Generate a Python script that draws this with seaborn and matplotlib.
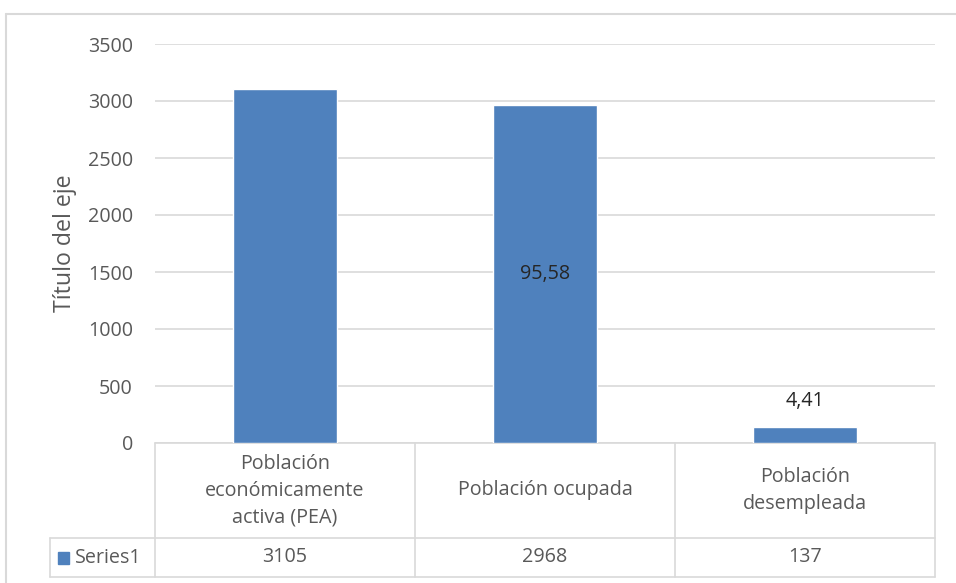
import matplotlib
matplotlib.use("Agg")
import matplotlib.pyplot as plt
import matplotlib.transforms as mtransforms
from matplotlib.patches import Rectangle
from matplotlib.lines import Line2D
import pandas as pd
import seaborn as sns

# data
categories = ["Población\neconómicamente\nactiva (PEA)", "Población ocupada", "Población\ndesempleada"]
values = [3105, 2968, 137]
bar_labels = ["", "95,58", "4,41"]
series_name = "Series1"
yticks = [0, 500, 1000, 1500, 2000, 2500, 3000, 3500]
ylabel = "Título del eje"

W, H = 956, 583
BLUE = "#4F81BD"
GRID = "#D9D9D9"
TXT = "#595959"
FS = 14.2

sns.set_theme(style="white")
plt.rcParams["font.family"] = ["Open Sans", "DejaVu Sans"]


def fx(x):
    return x / W


def fy(y):
    return 1 - y / H


df = pd.DataFrame({"cat": categories, "val": values})

fig = plt.figure(figsize=(W / 100, H / 100), dpi=100)
ax = fig.add_axes([fx(155), fy(443), fx(935) - fx(155), fy(44) - fy(443)])

sns.barplot(data=df, x="cat", y="val", color=BLUE, saturation=1, width=0.4, ax=ax, zorder=3)

ax.set_ylim(0, 3500)
ax.set_xlim(-0.5, len(categories) - 0.5)
ax.set_yticks(yticks)
ax.set_yticklabels([str(t) for t in yticks], color=TXT, fontsize=FS)
ax.set_xticks([])
ax.set_xlabel("")
ax.set_ylabel(ylabel, color=TXT, fontsize=FS + 2.5, labelpad=8)
ax.tick_params(axis="y", length=0, pad=16)
ax.yaxis.grid(True, color=GRID, linewidth=1.2)
for s in ax.spines.values():
    s.set_visible(False)

# data labels
for i, (v, lab) in enumerate(zip(values, bar_labels)):
    if not lab:
        continue
    if v > 1000:
        ax.text(i, v / 2, lab, ha="center", va="center", color="#262626", fontsize=FS)
    else:
        ax.annotate(lab, (i, v), xytext=(0, 19), textcoords="offset points",
                    ha="center", va="center", color="#262626", fontsize=FS)

# data table under the plot
tr = mtransforms.blended_transform_factory(ax.transData, ax.transAxes)
row1 = -(538 - 443) / (443 - 44)
row2 = -(577 - 443) / (443 - 44)
n = len(categories)
for b in [i - 0.5 for i in range(n + 1)]:
    ax.add_line(Line2D([b, b], [0, row2], transform=tr, color=GRID, lw=1.2, clip_on=False))
for i, cat in enumerate(categories):
    ax.text(i, row1 / 2, cat, transform=tr, ha="center", va="center", color=TXT,
            fontsize=FS, linespacing=1.45)
    ax.text(i, (row1 + row2) / 2, str(values[i]), transform=tr, ha="center", va="center",
            color=TXT, fontsize=FS)
ax.add_line(Line2D([-0.5, n - 0.5], [0, 0], transform=tr, color=GRID, lw=1.2, clip_on=False))

# label column of the table (left of the axes)
for y in (538, 577):
    fig.add_artist(Line2D([fx(50), fx(935)], [fy(y), fy(y)], color=GRID, lw=1.2))
fig.add_artist(Line2D([fx(50), fx(50)], [fy(538), fy(577)], color=GRID, lw=1.2))
fig.add_artist(Rectangle((fx(58), fy(564)), fx(11), fy(552) - fy(564), color=BLUE))
fig.text(fx(75), fy(558), series_name, ha="left", va="center", color=TXT, fontsize=FS)

# outer chart frame
fig.add_artist(Line2D([fx(6), fx(6)], [0, fy(14)], color=GRID, lw=1.5))
fig.add_artist(Line2D([fx(6), 1], [fy(14), fy(14)], color=GRID, lw=1.5))

fig.savefig("out.png", dpi=100)
